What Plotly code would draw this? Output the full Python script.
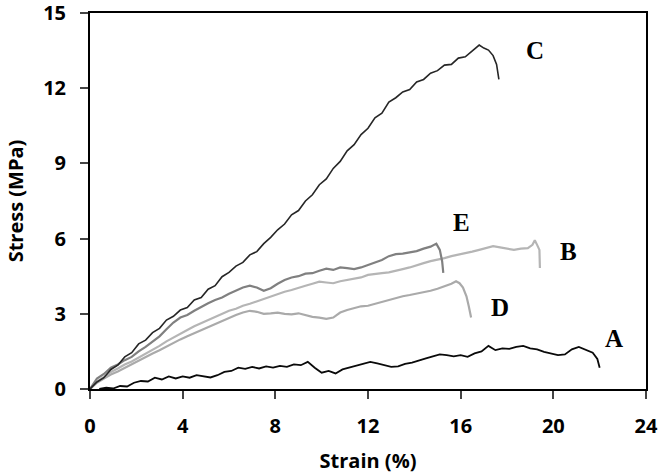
import plotly.graph_objects as go

# strain (%) / stress (MPa)
c_x = [0, 0.3, 0.6, 0.9, 1.2, 1.5, 1.8, 2.1, 2.4, 2.7, 3.0, 3.3, 3.6, 3.9, 4.2, 4.5, 4.8, 5.1, 5.4, 5.7,
       6.0, 6.3, 6.6, 6.9, 7.2, 7.5, 7.8, 8.1, 8.4, 8.7, 9.0, 9.3, 9.6, 9.9, 10.2, 10.5, 10.8, 11.1, 11.4,
       11.7, 12.0, 12.3, 12.6, 12.9, 13.2, 13.5, 13.8, 14.1, 14.4, 14.7, 15.0, 15.3, 15.6, 15.9, 16.2,
       16.5, 16.8, 17.0, 17.2, 17.4, 17.55, 17.65]
c_y = [0, 0.28, 0.45, 0.78, 0.95, 1.28, 1.45, 1.8, 1.95, 2.25, 2.42, 2.75, 2.9, 3.15, 3.25, 3.55, 3.65,
       3.98, 4.12, 4.48, 4.65, 4.9, 5.05, 5.35, 5.48, 5.8, 6.05, 6.35, 6.58, 6.95, 7.12, 7.5, 7.75, 8.15,
       8.38, 8.8, 9.08, 9.5, 9.75, 10.15, 10.4, 10.82, 11.0, 11.45, 11.62, 11.85, 11.95, 12.25, 12.35,
       12.6, 12.7, 12.92, 12.95, 13.2, 13.25, 13.5, 13.72, 13.6, 13.52, 13.3, 12.95, 12.35]

a_x = [0.4, 0.7, 1.0, 1.3, 1.6, 1.9, 2.2, 2.5, 2.8, 3.1, 3.4, 3.7, 4.0, 4.3, 4.6, 4.9, 5.2, 5.5, 5.8, 6.1,
       6.4, 6.7, 7.0, 7.3, 7.6, 7.9, 8.2, 8.5, 8.8, 9.1, 9.4, 9.7, 10.0, 10.3, 10.6, 10.9, 11.2, 11.5,
       11.8, 12.1, 12.4, 12.7, 13.0, 13.3, 13.6, 13.9, 14.2, 14.5, 14.8, 15.1, 15.4, 15.7, 16.0, 16.3,
       16.6, 16.9, 17.2, 17.5, 17.8, 18.1, 18.4, 18.7, 19.0, 19.3, 19.6, 19.9, 20.2, 20.5, 20.8, 21.1,
       21.4, 21.7, 21.9, 22.0]
a_y = [0.0, 0.05, 0.02, 0.12, 0.1, 0.25, 0.32, 0.3, 0.45, 0.38, 0.5, 0.42, 0.5, 0.45, 0.55, 0.5, 0.46,
       0.55, 0.68, 0.72, 0.85, 0.8, 0.88, 0.82, 0.9, 0.85, 0.92, 0.88, 0.98, 0.95, 1.08, 0.85, 0.65, 0.72,
       0.62, 0.78, 0.85, 0.92, 1.0, 1.08, 1.02, 0.95, 0.88, 0.9, 1.0, 1.05, 1.12, 1.22, 1.3, 1.38, 1.35,
       1.3, 1.35, 1.28, 1.42, 1.5, 1.72, 1.55, 1.62, 1.6, 1.68, 1.72, 1.62, 1.58, 1.48, 1.42, 1.35, 1.38,
       1.58, 1.68, 1.58, 1.45, 1.2, 0.85]

e_x = [0, 0.3, 0.6, 0.9, 1.2, 1.5, 1.8, 2.1, 2.4, 2.7, 3.0, 3.3, 3.6, 3.9, 4.2, 4.5, 4.8, 5.1, 5.4, 5.7,
       6.0, 6.3, 6.6, 6.9, 7.2, 7.5, 7.8, 8.1, 8.4, 8.7, 9.0, 9.3, 9.6, 9.9, 10.2, 10.5, 10.8, 11.1, 11.4,
       11.7, 12.0, 12.3, 12.6, 12.9, 13.2, 13.5, 13.8, 14.1, 14.4, 14.7, 14.95, 15.1, 15.2, 15.25]
e_y = [0, 0.42, 0.6, 0.85, 0.98, 1.15, 1.28, 1.5, 1.68, 1.9, 2.1, 2.38, 2.65, 2.85, 2.95, 3.12, 3.28,
       3.42, 3.55, 3.65, 3.8, 3.92, 4.05, 4.12, 4.05, 3.92, 4.02, 4.2, 4.35, 4.45, 4.5, 4.6, 4.62, 4.72,
       4.8, 4.75, 4.85, 4.82, 4.78, 4.85, 4.95, 5.05, 5.15, 5.3, 5.38, 5.4, 5.45, 5.5, 5.6, 5.68, 5.8,
       5.55, 5.1, 4.63]

b_x = [0, 0.3, 0.6, 0.9, 1.2, 1.5, 1.8, 2.1, 2.4, 2.7, 3.0, 3.3, 3.6, 3.9, 4.2, 4.5, 4.8, 5.1, 5.4, 5.7,
       6.0, 6.3, 6.6, 6.9, 7.2, 7.5, 7.8, 8.1, 8.4, 8.7, 9.0, 9.3, 9.6, 9.9, 10.2, 10.5, 10.8, 11.1, 11.4,
       11.7, 12.0, 12.3, 12.6, 12.9, 13.2, 13.5, 13.8, 14.1, 14.4, 14.7, 15.0, 15.3, 15.6, 15.9, 16.2,
       16.5, 16.8, 17.1, 17.4, 17.7, 18.0, 18.3, 18.6, 18.9, 19.1, 19.2, 19.3, 19.4, 19.42]
b_y = [0, 0.3, 0.48, 0.68, 0.82, 0.98, 1.1, 1.25, 1.42, 1.58, 1.72, 1.9, 2.06, 2.2, 2.35, 2.5, 2.62,
       2.75, 2.85, 2.98, 3.12, 3.2, 3.32, 3.4, 3.5, 3.58, 3.7, 3.8, 3.88, 3.95, 4.05, 4.12, 4.2, 4.28,
       4.25, 4.22, 4.3, 4.35, 4.4, 4.45, 4.55, 4.6, 4.62, 4.65, 4.7, 4.78, 4.85, 4.95, 5.02, 5.1, 5.15,
       5.22, 5.3, 5.35, 5.4, 5.48, 5.55, 5.62, 5.7, 5.65, 5.6, 5.55, 5.6, 5.62, 5.75, 5.93, 5.75, 5.55,
       4.83]

d_x = [0, 0.3, 0.6, 0.9, 1.2, 1.5, 1.8, 2.1, 2.4, 2.7, 3.0, 3.3, 3.6, 3.9, 4.2, 4.5, 4.8, 5.1, 5.4, 5.7,
       6.0, 6.3, 6.6, 6.9, 7.2, 7.5, 7.8, 8.1, 8.4, 8.7, 9.0, 9.3, 9.6, 9.9, 10.2, 10.5, 10.8, 11.1, 11.4,
       11.7, 12.0, 12.3, 12.6, 12.9, 13.2, 13.5, 13.8, 14.1, 14.4, 14.7, 15.0, 15.3, 15.6, 15.8, 15.95,
       16.1, 16.25, 16.35, 16.45]
d_y = [0, 0.25, 0.42, 0.58, 0.7, 0.85, 0.98, 1.12, 1.28, 1.42, 1.55, 1.7, 1.82, 1.98, 2.1, 2.22, 2.35,
       2.48, 2.6, 2.72, 2.85, 2.95, 3.05, 3.12, 3.08, 3.0, 3.02, 3.05, 3.0, 2.98, 3.02, 2.95, 2.88, 2.85,
       2.8, 2.85, 3.05, 3.15, 3.22, 3.3, 3.32, 3.4, 3.48, 3.55, 3.62, 3.7, 3.75, 3.8, 3.85, 3.92, 4.0,
       4.1, 4.2, 4.3, 4.22, 4.05, 3.7, 3.3, 2.85]

labels = ["A", "B", "C", "D", "E"]
label_x = [22.6, 20.67, 19.2, 17.7, 16.05]
label_y = [2.02, 5.5, 13.5, 3.25, 6.65]

fig = go.Figure()
series = [(b_x, b_y, "#b5b5b5", 2.2), (d_x, d_y, "#aaaaaa", 2.2), (e_x, e_y, "#808080", 2.2),
          (a_x, a_y, "#0a0a0a", 1.8), (c_x, c_y, "#262626", 1.6)]
for xs, ys, col, w in series:
    fig.add_trace(go.Scatter(x=xs, y=ys, mode="lines", line=dict(color=col, width=w),
                             showlegend=False))

for t, lx, ly in zip(labels, label_x, label_y):
    fig.add_annotation(x=lx, y=ly, text=t, showarrow=False,
                       font=dict(family="Liberation Serif", size=25, color="black", weight="bold"))

tick_font = dict(family="Open Sans", size=20, color="black", weight="bold")
fig.update_xaxes(range=[0, 24], tickvals=[0, 4, 8, 12, 16, 20, 24], ticks="outside", ticklen=8,
                 tickwidth=2, showline=True, linewidth=2, linecolor="black", mirror=True,
                 showgrid=False, zeroline=False, tickfont=tick_font, ticklabelstandoff=10,
                 ticklabeloverflow="allow",
                 title=dict(text="Strain (%)", font=tick_font, standoff=19))
fig.update_yaxes(range=[0, 15], tickvals=[0, 3, 6, 9, 12, 15], ticks="outside", ticklen=8,
                 tickwidth=2, showline=True, linewidth=2, linecolor="black", mirror=True,
                 showgrid=False, zeroline=False, tickfont=tick_font, ticklabelstandoff=10,
                 ticklabeloverflow="allow",
                 title=dict(text="Stress (MPa)", font=tick_font, standoff=14))
fig.update_layout(width=661, height=474, margin=dict(l=90, r=15, t=13, b=85, autoexpand=False),
                  plot_bgcolor="white", paper_bgcolor="white")
fig.write_html("out.html", config={"displayModeBar": False},
               post_script="document.body.style.margin='0px';")
